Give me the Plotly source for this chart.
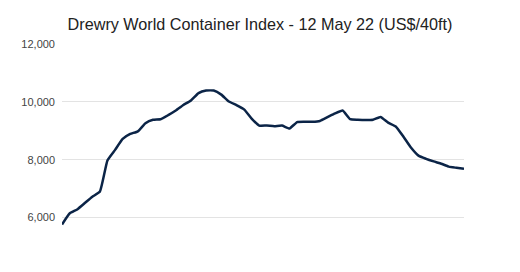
import plotly.graph_objects as go
import pandas as pd

dates = pd.date_range("2021-05-06", periods=54, freq="7D")
values = [5760, 6140, 6280, 6500, 6720, 6900, 7980, 8340, 8720, 8890,
          8980, 9260, 9380, 9400, 9540, 9700, 9890, 10050, 10300, 10390,
          10390, 10250, 10010, 9890, 9740, 9420, 9180, 9180, 9160, 9180,
          9080, 9300, 9310, 9310, 9340, 9470, 9600, 9700, 9400, 9380,
          9370, 9380, 9480, 9280, 9150, 8800, 8420, 8140, 8030, 7940,
          7860, 7760, 7720, 7684]
y_ticks = [6000, 8000, 10000, 12000]
title_text = "Drewry World Container Index - 12 May 22 (US$/40ft)"

fig = go.Figure(go.Scatter(
    x=dates, y=values, mode="lines",
    line=dict(color="#0b2447", width=2.5, shape="spline", smoothing=0.4),
    hoverinfo="skip"))

fig.update_layout(
    width=520, height=272,
    margin=dict(l=62, r=56, t=44, b=40),
    paper_bgcolor="white", plot_bgcolor="white",
    showlegend=False,
    title=dict(text=title_text, x=0.5, xanchor="center", y=0.912, yanchor="middle",
               font=dict(family="Liberation Sans, Arial", size=16.2, color="#222222")),
    xaxis=dict(showticklabels=False, showgrid=False, zeroline=False, showline=False,
               range=[dates[0], dates[-1]]),
    yaxis=dict(range=[5500, 12000], tickvals=y_ticks, tickformat=",d",
               showgrid=True, gridcolor="#e3e3e3", gridwidth=1, zeroline=False,
               tickfont=dict(family="Liberation Sans, Arial", size=11, color="#444444"),
               ticks="", ticklabelstandoff=6),
)
fig.write_html("out.html")
